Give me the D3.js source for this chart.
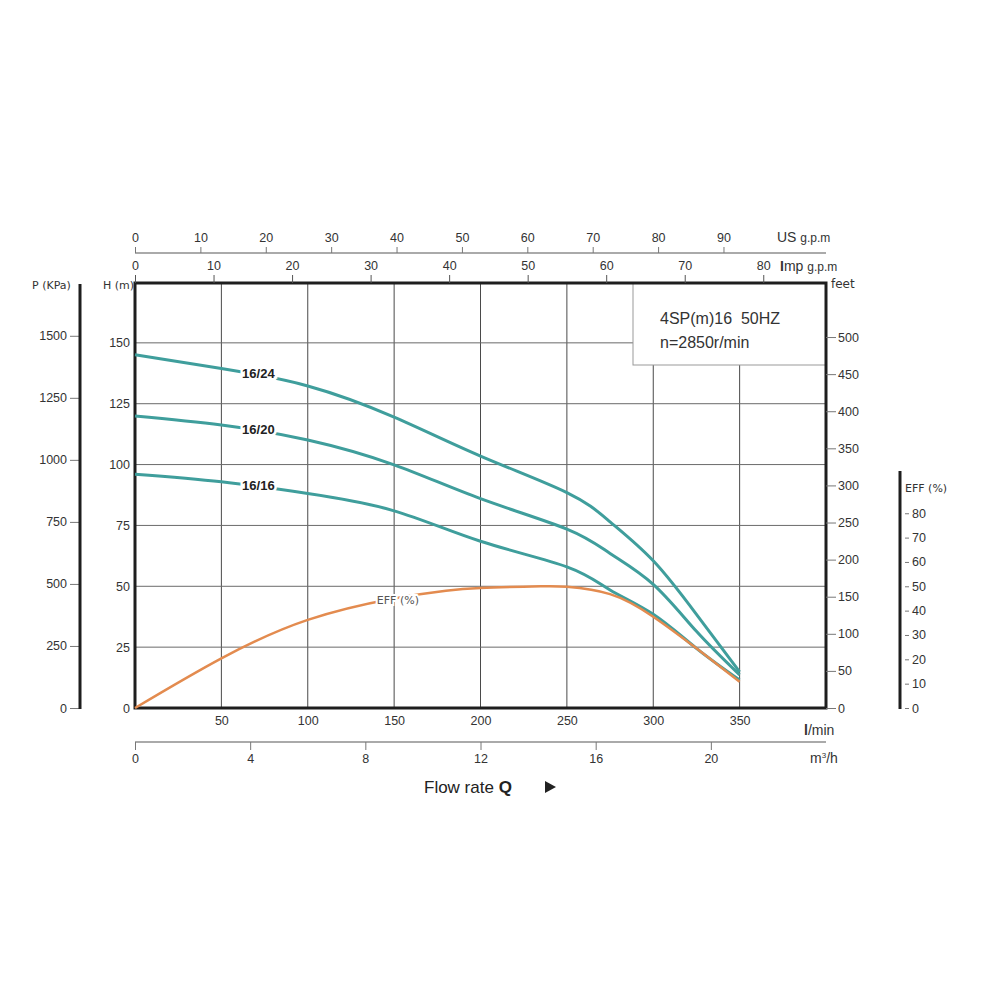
<!DOCTYPE html>
<html>
<head>
<meta charset="utf-8">
<script src="https://cdn.jsdelivr.net/npm/d3@7"></script>
<style>
  body { margin: 0; background: #fff; }
  svg text { font-family: "Liberation Sans", Arial, sans-serif; fill: #333; }
  .axis text { font-size: 12.5px; }
  .unit { font-family: "DejaVu Sans", sans-serif !important; font-size: 11px; }
</style>
</head>
<body>
<script>

// Flow rate (l/min) and head (m)
var flow = [0, 50, 100, 150, 200, 250, 275, 300, 325, 350];
var head1624 = [145.1, 139.5, 132.3, 119.5, 103.5, 88.5, 76.5, 60.5, 38.5, 14.8];
var head1620 = [120, 116.3, 110.1, 99.9, 86, 73.5, 63.5, 50.8, 31.5, 13.6];
var head1616 = [96, 92.9, 88.1, 81, 68.5, 58, 48.5, 38.5, 24.5, 11.5];
var effFlow = [0, 50, 100, 150, 180, 200, 235, 250, 275, 300, 325, 350];
var eff = [0, 20.4, 36.2, 45, 48.2, 49.3, 50, 49.8, 46.8, 37.5, 24.5, 10.8];

var seriesNames = ['16/24', '16/20', '16/16'];

// tick labels for every axis
var lminTicks = [50, 100, 150, 200, 250, 300, 350];
var m3hTicks = [0, 4, 8, 12, 16, 20];
var usTicks = [0, 10, 20, 30, 40, 50, 60, 70, 80, 90];
var impTicks = [0, 10, 20, 30, 40, 50, 60, 70, 80];
var headTicks = [0, 25, 50, 75, 100, 125, 150];
var kpaTicks = [0, 250, 500, 750, 1000, 1250, 1500];
var feetTicks = [0, 50, 100, 150, 200, 250, 300, 350, 400, 450, 500];
var effTicks = [0, 10, 20, 30, 40, 50, 60, 70, 80];

var title1 = '4SP(m)16\u00a0\u00a050HZ';
var title2 = 'n=2850r/min';

var teal = '#3f9e9c', orange = '#e38b4f';

var svg = d3.select('body').append('svg').attr('width', 1000).attr('height', 1000);

// 1. Scales
var plotLeft = 135, plotRight = 826, plotTop = 283, plotBottom = 708;
var x = d3.scaleLinear().domain([0, 400]).range([plotLeft, plotRight]);
var y = d3.scaleLinear().domain([0, 175]).range([plotBottom, 282]);

var xUS = d3.scaleLinear().domain([0, 400 / 3.785]).range([plotLeft, plotRight]);
var xImp = d3.scaleLinear().domain([0, 400 / 4.546]).range([plotLeft, plotRight]);
var xM3 = d3.scaleLinear().domain([0, 400 / 16.667]).range([plotLeft, plotRight]);
var yKpa = d3.scaleLinear().domain([0, 175 * 9.81]).range([plotBottom, 282]);
var yFeet = d3.scaleLinear().domain([0, 175 * 3.281]).range([plotBottom, 282]);

// 2. Grid
var g = svg.append('g');
g.selectAll('.vgrid').data(lminTicks).enter().append('line')
    .attr('x1', function(d) { return x(d); }).attr('x2', function(d) { return x(d); })
    .attr('y1', plotTop).attr('y2', plotBottom)
    .style('stroke', '#4a4a4a').style('stroke-width', 1);
g.selectAll('.hgrid').data(headTicks.slice(1)).enter().append('line')
    .attr('x1', plotLeft).attr('x2', plotRight)
    .attr('y1', function(d) { return y(d); }).attr('y2', function(d) { return y(d); })
    .style('stroke', '#6a6a6a').style('stroke-width', 1);

// legend box
g.append('rect').attr('x', 633).attr('y', plotTop).attr('width', plotRight - 633).attr('height', 82)
    .style('fill', '#fff').style('stroke', '#999').style('stroke-width', 1);
g.append('text').attr('x', 660).attr('y', 324).style('font-size', '16px').text(title1);
g.append('text').attr('x', 660).attr('y', 348).style('font-size', '16px').text(title2);

// 3. Plot frame
g.append('rect').attr('x', plotLeft).attr('y', plotTop).attr('width', plotRight - plotLeft).attr('height', plotBottom - plotTop)
    .style('fill', 'none').style('stroke', '#1e1e1e').style('stroke-width', 3);

// 4. Axes
var tidy = function(sel) { sel.select('.domain').remove(); sel.selectAll('text').style('fill', '#333'); };

// US gpm (top)
var usAxis = svg.append('g').attr('class', 'axis').attr('transform', 'translate(0,253)')
    .call(d3.axisTop(xUS).tickValues(usTicks).tickSize(6).tickSizeOuter(0).tickPadding(5));
usAxis.select('.domain').attr('d', 'M' + plotLeft + ',0H' + plotRight).style('stroke', '#aaa').style('stroke-width', 2);
usAxis.selectAll('.tick line').style('stroke', '#777');
svg.append('text').attr('x', 777).attr('y', 242).style('font-size', '14px').text('US ')
    .append('tspan').style('font-size', '12px').text('g.p.m');

// Imp gpm (top of frame)
var impAxis = svg.append('g').attr('class', 'axis').attr('transform', 'translate(0,' + plotTop + ')')
    .call(d3.axisTop(xImp).tickValues(impTicks).tickSize(8).tickPadding(5));
tidy(impAxis);
impAxis.selectAll('.tick line').style('stroke', '#555');
var impLabel = svg.append('text').attr('x', 780).attr('y', 271).style('font-size', '14px');
impLabel.append('tspan').style('font-weight', 'bold').text('I');
impLabel.append('tspan').text('mp ');
impLabel.append('tspan').style('font-size', '12px').text('g.p.m');

// l/min (bottom)
var lminAxis = svg.append('g').attr('class', 'axis').attr('transform', 'translate(0,' + plotBottom + ')')
    .call(d3.axisBottom(x).tickValues(lminTicks).tickSize(0).tickPadding(8));
tidy(lminAxis);
var lminLabel = svg.append('text').attr('x', 804).attr('y', 735).style('font-size', '14px');
lminLabel.append('tspan').style('font-weight', 'bold').text('l');
lminLabel.append('tspan').text('/min');

// m3/h
var m3Axis = svg.append('g').attr('class', 'axis').attr('transform', 'translate(0,742)')
    .call(d3.axisBottom(xM3).tickValues(m3hTicks).tickSize(8).tickSizeOuter(0).tickPadding(4));
m3Axis.select('.domain').attr('d', 'M' + plotLeft + ',0H' + plotRight).style('stroke', '#aaa').style('stroke-width', 2);
m3Axis.selectAll('.tick line').style('stroke', '#777');
var m3Label = svg.append('text').attr('x', 810).attr('y', 763).style('font-size', '14px').text('m');
m3Label.append('tspan').attr('dy', -5).style('font-size', '8px').text('3');
m3Label.append('tspan').attr('dy', 5).text('/h');

// Flow rate title
var ft = svg.append('text').attr('x', 424).attr('y', 793).style('font-size', '17px').style('fill', '#222');
ft.append('tspan').text('Flow rate ');
ft.append('tspan').style('font-weight', 'bold').text('Q');
svg.append('path').attr('d', 'M545,781L556,787L545,793Z').style('fill', '#222');

// H (m)
var hAxis = svg.append('g').attr('class', 'axis').attr('transform', 'translate(' + plotLeft + ',0)')
    .call(d3.axisLeft(y).tickValues(headTicks).tickSize(0).tickPadding(5));
tidy(hAxis);
svg.append('text').attr('class', 'unit').attr('x', 103).attr('y', 289).text('H (m)');

// P (KPa)
var pAxis = svg.append('g').attr('class', 'axis').attr('transform', 'translate(80,0)')
    .call(d3.axisLeft(yKpa).tickValues(kpaTicks).tickFormat(d3.format('d')).tickSize(10).tickPadding(3));
tidy(pAxis);
pAxis.selectAll('.tick line').style('stroke', '#777');
svg.append('line').attr('x1', 80).attr('x2', 80).attr('y1', 284).attr('y2', 709)
    .style('stroke', '#1e1e1e').style('stroke-width', 3);
svg.append('text').attr('class', 'unit').attr('x', 32).attr('y', 289).text('P (KPa)');

// feet (right)
var feetAxis = svg.append('g').attr('class', 'axis').attr('transform', 'translate(' + plotRight + ',0)')
    .call(d3.axisRight(yFeet).tickValues(feetTicks).tickSize(10).tickPadding(2));
tidy(feetAxis);
feetAxis.selectAll('.tick line').style('stroke', '#777');
svg.append('text').attr('class', 'unit').attr('x', 831).attr('y', 288).style('font-size', '12px').text('feet');

// EFF (%)
var effAxis = svg.append('g').attr('class', 'axis').attr('transform', 'translate(900,0)')
    .call(d3.axisRight(y).tickValues(effTicks).tickSize(9).tickPadding(3));
tidy(effAxis);
effAxis.selectAll('.tick line').attr('x1', 5).style('stroke', '#777');
svg.append('line').attr('x1', 900).attr('x2', 900).attr('y1', 471).attr('y2', 709)
    .style('stroke', '#1e1e1e').style('stroke-width', 3);
svg.append('text').attr('class', 'unit').attr('x', 905).attr('y', 492).text('EFF (%)');

// 5. Curves
var line = d3.line()
    .x(function(d) { return x(d[0]); })
    .y(function(d) { return y(d[1]); })
    .curve(d3.curveNatural);

var heads = [head1624, head1620, head1616];
var curves = svg.append('g');

heads.forEach(function(h, i) {
  var pts = flow.map(function(q, k) { return [q, h[k]]; });
  curves.append('path').datum(pts)
      .style('fill', 'none').style('stroke', teal).style('stroke-width', 3)
      .attr('d', line);
});

var effPts = effFlow.map(function(q, k) { return [q, eff[k]]; });
curves.append('path').datum(effPts)
    .style('fill', 'none').style('stroke', orange).style('stroke-width', 2.5)
    .attr('d', line);

// curve labels, sitting on the line with a white halo
var at = function(xs, ys, q) { return d3.scaleLinear().domain(xs).range(ys)(q); };
var labelQ = 62;
heads.forEach(function(h, i) {
  curves.append('text')
      .attr('x', x(labelQ)).attr('y', y(at(flow, h, labelQ)) + 5)
      .style('font-size', '13px').style('font-weight', 'bold').style('fill', '#222')
      .style('stroke', '#fff').style('stroke-width', 5).style('paint-order', 'stroke')
      .text(seriesNames[i]);
});
curves.append('text')
    .attr('x', x(140)).attr('y', y(at(effFlow, eff, 140)) + 1)
    .attr('class', 'unit').style('fill', '#555')
    .style('stroke', '#fff').style('stroke-width', 4).style('paint-order', 'stroke')
    .text('EFF (%)');

</script>
</body>
</html>
